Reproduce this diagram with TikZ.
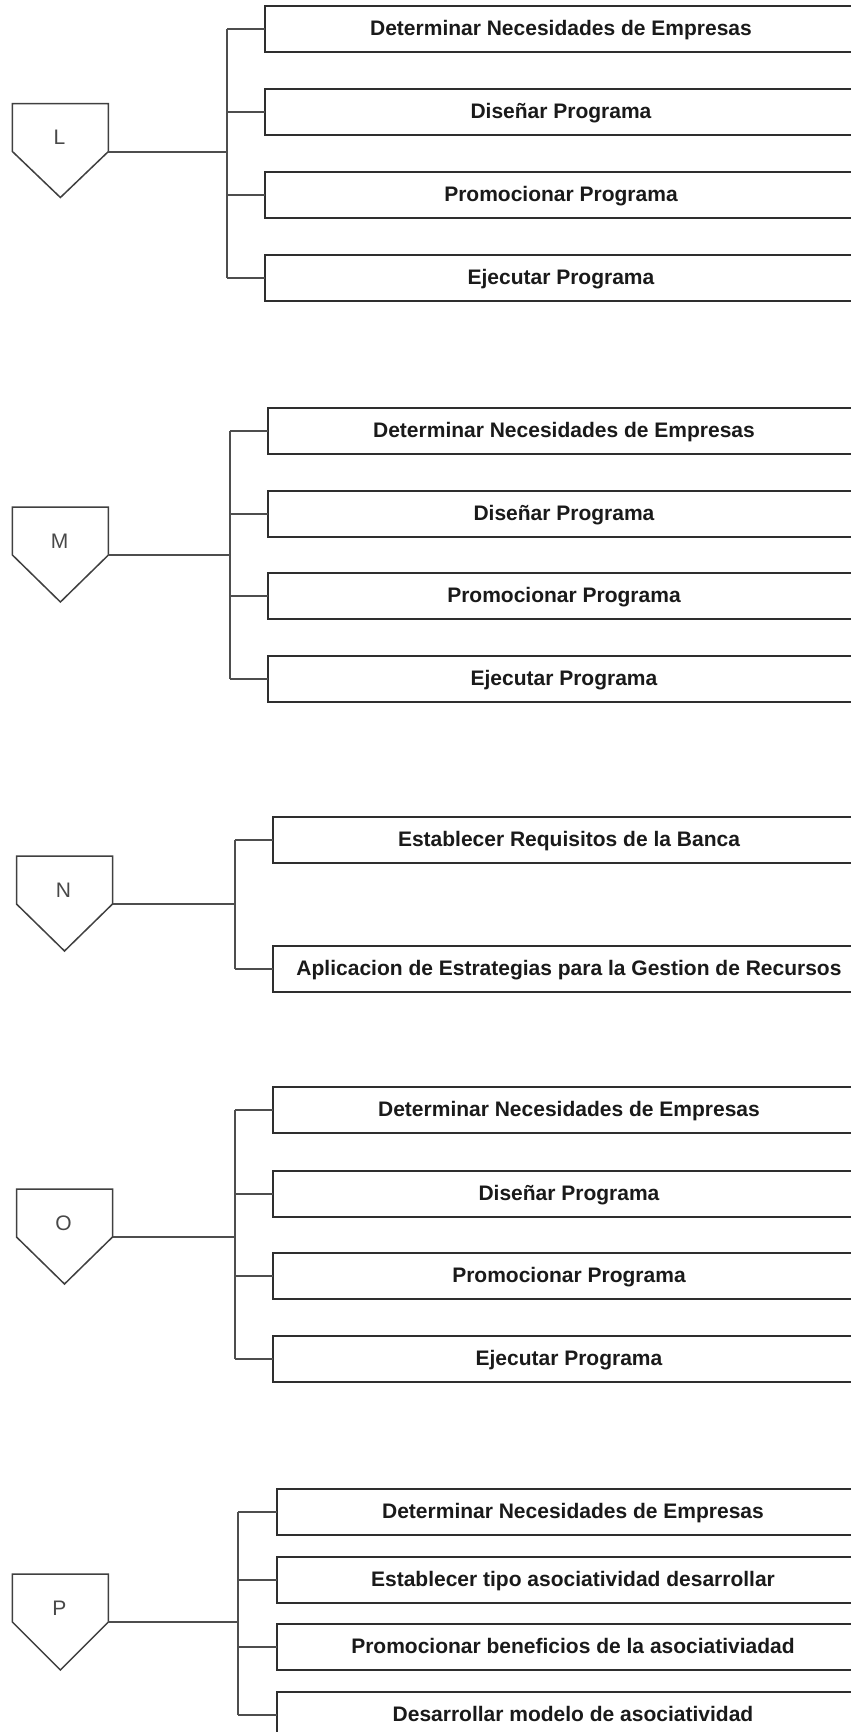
\documentclass[tikz,border=0pt]{standalone}
\usepackage{fontspec}
\setmainfont{Liberation Sans}
\definecolor{boxline}{HTML}{2E2E2E}
\definecolor{wireline}{HTML}{4E4E4E}
\definecolor{plateline}{HTML}{404040}
\definecolor{txt}{HTML}{1A1A1A}
\definecolor{tagtxt}{HTML}{484848}
\begin{document}
\begin{tikzpicture}[x=1pt,y=-1pt,
  box/.style={draw=boxline, line width=2pt, fill=white,
    minimum width=592pt, minimum height=46pt, inner sep=0pt, outer sep=0pt,
    anchor=north west, text=txt, text height=13pt, text depth=0pt,
    font=\bfseries\fontsize{21}{25}\selectfont},
  plate/.style={minimum width=96pt, minimum height=48pt, inner sep=0pt, outer sep=0pt},
  plateedge/.style={draw=plateline, line width=1.5pt, fill=white, line join=miter},
  tag/.style={anchor=base, inner sep=0pt, text=tagtxt, font=\fontsize{21}{25}\selectfont},
  wire/.style={draw=wireline, line width=2pt}]
\useasboundingbox (0,0) rectangle (851,1732);
\clip (0,0) rectangle (851,1732);
\fill[white] (0,0) rectangle (851,1732);

% ---------- L ----------
\node[plate] (pL) at (60.4,127.5) {};
\draw[plateedge] (pL.north west) -- (pL.north east) -- (pL.south east)
  -- ([yshift=-46pt]pL.south) -- (pL.south west) -- cycle;
\node[tag] (tL) at (59.5,144.5) {L};
\node[box] (L1) at (265,6)   {Determinar Necesidades de Empresas};
\node[box] (L2) at (265,89)  {Diseñar Programa};
\node[box] (L3) at (265,172) {Promocionar Programa};
\node[box] (L4) at (265,255) {Ejecutar Programa};
\coordinate (jL) at (227,151.5);
\draw[wire] (pL.south east) -- (jL);
\draw[wire] (jL |- L1.west) -- (jL |- L4.west);
\foreach \i in {1,...,4} \draw[wire] (jL |- L\i.west) -- (L\i.west);

% ---------- M ----------
\node[plate] (pM) at (60.4,531) {};
\draw[plateedge] (pM.north west) -- (pM.north east) -- (pM.south east)
  -- ([yshift=-47pt]pM.south) -- (pM.south west) -- cycle;
\node[tag] (tM) at (59.5,548.5) {M};
\node[box] (M1) at (268,408) {Determinar Necesidades de Empresas};
\node[box] (M2) at (268,491) {Diseñar Programa};
\node[box] (M3) at (268,573) {Promocionar Programa};
\node[box] (M4) at (268,656) {Ejecutar Programa};
\coordinate (jM) at (230,555);
\draw[wire] (pM.south east) -- (jM);
\draw[wire] (jM |- M1.west) -- (jM |- M4.west);
\foreach \i in {1,...,4} \draw[wire] (jM |- M\i.west) -- (M\i.west);

% ---------- N ----------
\node[plate] (pN) at (64.5,880) {};
\draw[plateedge] (pN.north west) -- (pN.north east) -- (pN.south east)
  -- ([yshift=-47pt]pN.south) -- (pN.south west) -- cycle;
\node[tag] (tN) at (63.5,897.5) {N};
\node[box] (N1) at (273,817) {Establecer Requisitos de la Banca};
\node[box] (N2) at (273,946) {Aplicacion de Estrategias para la Gestion de Recursos};
\coordinate (jN) at (235,904);
\draw[wire] (pN.south east) -- (jN);
\draw[wire] (jN |- N1.west) -- (jN |- N2.west);
\foreach \i in {1,2} \draw[wire] (jN |- N\i.west) -- (N\i.west);

% ---------- O ----------
\node[plate] (pO) at (64.5,1213) {};
\draw[plateedge] (pO.north west) -- (pO.north east) -- (pO.south east)
  -- ([yshift=-47pt]pO.south) -- (pO.south west) -- cycle;
\node[tag] (tO) at (63.5,1230.5) {O};
\node[box] (O1) at (273,1087) {Determinar Necesidades de Empresas};
\node[box] (O2) at (273,1171) {Diseñar Programa};
\node[box] (O3) at (273,1253) {Promocionar Programa};
\node[box] (O4) at (273,1336) {Ejecutar Programa};
\coordinate (jO) at (235,1237);
\draw[wire] (pO.south east) -- (jO);
\draw[wire] (jO |- O1.west) -- (jO |- O4.west);
\foreach \i in {1,...,4} \draw[wire] (jO |- O\i.west) -- (O\i.west);

% ---------- P ----------
\node[plate] (pP) at (60.4,1598) {};
\draw[plateedge] (pP.north west) -- (pP.north east) -- (pP.south east)
  -- ([yshift=-48pt]pP.south) -- (pP.south west) -- cycle;
\node[tag] (tP) at (59.5,1615.5) {P};
\node[box] (P1) at (277,1489) {Determinar Necesidades de Empresas};
\node[box] (P2) at (277,1557) {Establecer tipo asociatividad desarrollar};
\node[box] (P3) at (277,1624) {Promocionar beneficios de la asociativiadad};
\node[box] (P4) at (277,1692) {Desarrollar modelo de asociatividad};
\coordinate (jP) at (238,1622);
\draw[wire] (pP.south east) -- (jP);
\draw[wire] (jP |- P1.west) -- (jP |- P4.west);
\foreach \i in {1,...,4} \draw[wire] (jP |- P\i.west) -- (P\i.west);
\end{tikzpicture}
\end{document}
